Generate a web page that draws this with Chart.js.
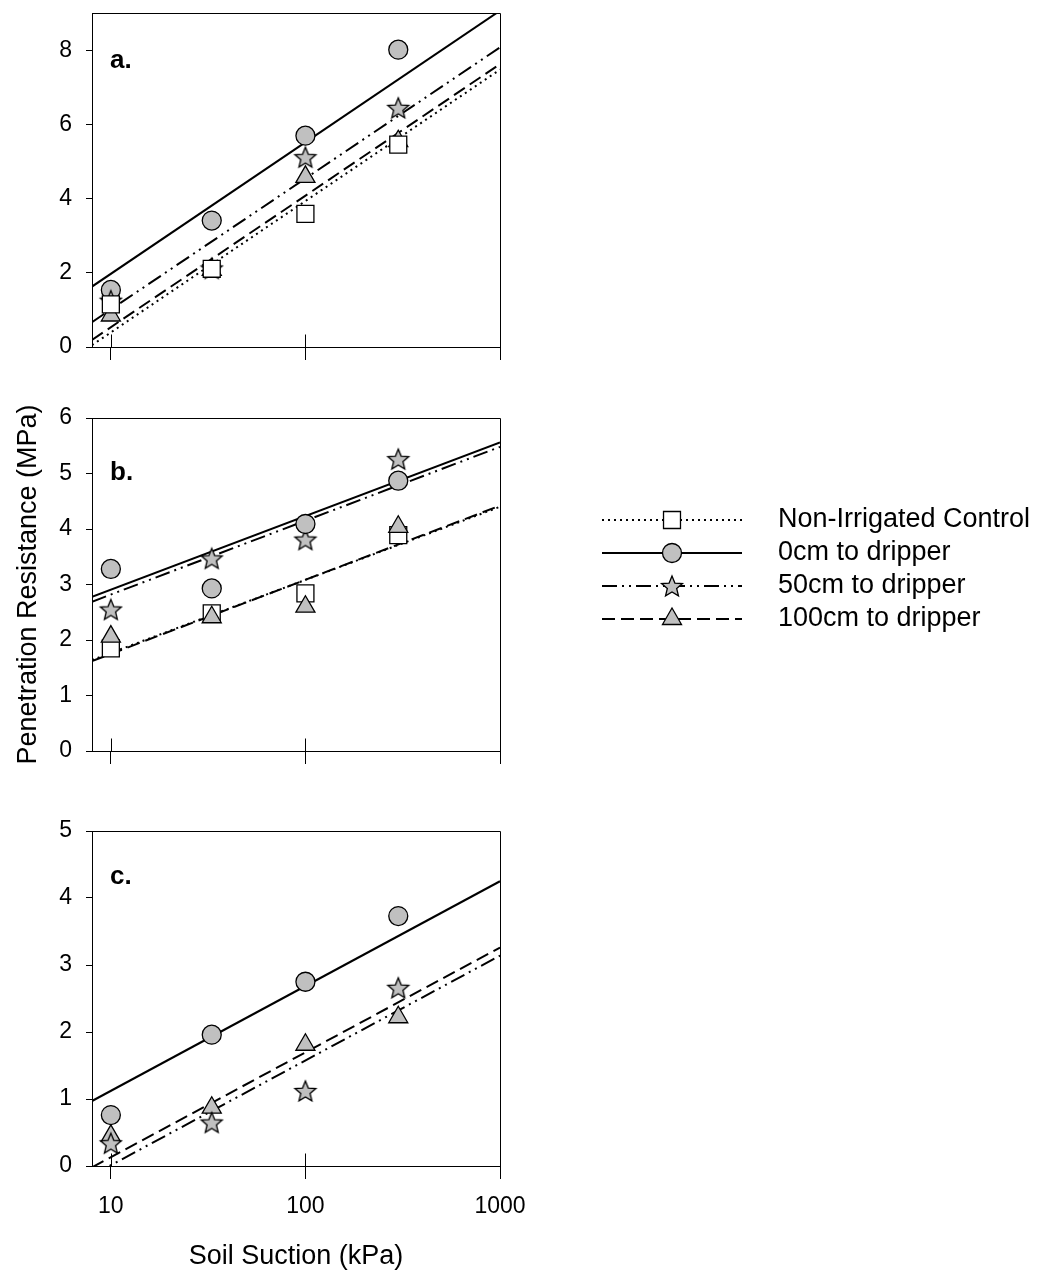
<!DOCTYPE html>
<html>
<head>
<meta charset="utf-8">
<script src="https://cdn.jsdelivr.net/npm/chart.js@4/dist/chart.umd.min.js"></script>
<style>
  body { margin: 0; background: #fff; }
  canvas { position: absolute; left: 0; }
</style>
</head>
<body>
<canvas id="chartA" width="540" height="380" style="top:0"></canvas>
<canvas id="chartB" width="1037" height="400" style="top:380px"></canvas>
<canvas id="chartC" width="540" height="483" style="top:790px"></canvas>
<script>
// soil suction (kPa) where penetration resistance was measured
const suction = [10, 33, 100, 300]
// regression lines are drawn across the whole x range
const fitSuction = [8, 1000]
const xTicks = [10, 100, 1000]

// a.
const aControl = [1.15, 2.11, 3.59, 5.46]
const a0cm = [1.54, 3.41, 5.7, 8.02]
const a50cm = [1.25, 2.12, 5.12, 6.45]
const a100cm = [0.85, 2.08, 4.59, 5.55]
const aControlFit = [0.05, 7.48]
const a0cmFit = [1.63, 9.07]
const a50cmFit = [0.67, 8.08]
const a100cmFit = [0.19, 7.63]
const aTicks = [0, 2, 4, 6, 8]

// b.
const bControl = [1.85, 2.48, 2.84, 3.89]
const b0cm = [3.28, 2.93, 4.09, 4.87]
const b50cm = [2.55, 3.47, 3.81, 5.26]
const b100cm = [2.06, 2.41, 2.6, 4.04]
const bControlFit = [1.64, 4.4]
const b0cmFit = [2.78, 5.56]
const b50cmFit = [2.69, 5.48]
const b100cmFit = [1.62, 4.42]
const bTicks = [0, 1, 2, 3, 4, 5, 6]

// c.  (no control series here)
const c0cm = [0.76, 1.96, 2.75, 3.73]
const c50cm = [0.34, 0.65, 1.12, 2.66]
const c100cm = [0.45, 0.87, 1.81, 2.22]
const c0cmFit = [0.97, 4.25]
const c50cmFit = [-0.14, 3.14]
const c100cmFit = [-0.02, 3.26]
const cTicks = [0, 1, 2, 3, 4, 5]

const family = '"Liberation Sans", Arial, sans-serif'

function makeStar() {
  const c = document.createElement('canvas')
  c.width = 26
  c.height = 26
  const g = c.getContext('2d')
  g.beginPath()
  for (let i = 0; i < 10; i++) {
    const r = i % 2 === 0 ? 11 : 4.9
    const a = -Math.PI / 2 + (i * Math.PI) / 5
    const px = 13 + r * Math.cos(a)
    const py = 14 + r * Math.sin(a)
    if (i === 0) g.moveTo(px, py)
    else g.lineTo(px, py)
  }
  g.closePath()
  g.fillStyle = '#c0c0c0'
  g.fill()
  g.lineWidth = 1.3
  g.strokeStyle = '#000'
  g.stroke()
  return c
}
const starImg = makeStar()

const seriesStyle = {
  control: { label: 'Non-Irrigated Control', pointStyle: 'rect', radius: 12, fill: '#ffffff', dash: [2, 4] },
  cm0: { label: '0cm to dripper', pointStyle: 'circle', radius: 9.5, fill: '#c0c0c0', dash: [] },
  cm50: { label: '50cm to dripper', pointStyle: starImg, radius: 10, fill: '#c0c0c0', dash: [15, 5, 2, 5, 2, 5] },
  cm100: { label: '100cm to dripper', pointStyle: 'triangle', radius: 11, fill: '#c0c0c0', dash: [13, 6] },
}
const legendKeys = ['control', 'cm0', 'cm50', 'cm100']

function markers(key, values) {
  const s = seriesStyle[key]
  return {
    label: s.label,
    data: suction.map((x, i) => ({ x: x, y: values[i] })),
    showLine: false,
    pointStyle: s.pointStyle,
    pointRadius: s.radius,
    pointHoverRadius: s.radius,
    pointBackgroundColor: s.fill,
    pointBorderColor: '#000',
    pointBorderWidth: 1.3,
    pointHoverBorderWidth: 1.3,
  }
}

function fitLine(key, ends) {
  const s = seriesStyle[key]
  return {
    label: s.label + ' fit',
    data: fitSuction.map((x, i) => ({ x: x, y: ends[i] })),
    showLine: true,
    borderColor: '#000',
    borderWidth: 2,
    borderDash: s.dash,
    pointRadius: 0,
    pointHoverRadius: 0,
  }
}

// box round the plot area + upper half of the x tick marks
const frame = {
  id: 'frame',
  beforeDatasetsDraw(chart) {
    const { ctx, chartArea: a, scales } = chart
    ctx.save()
    ctx.strokeStyle = '#000'
    ctx.lineWidth = 1
    ctx.setLineDash([])
    ctx.beginPath()
    const l = Math.round(a.left) + 0.5
    const r = Math.round(a.right) + 0.5
    const t = Math.round(a.top) + 0.5
    const b = Math.round(a.bottom) + 0.5
    ctx.moveTo(l, t)
    ctx.lineTo(r, t)
    ctx.lineTo(r, b)
    xTicks.forEach((v) => {
      const px = Math.round(scales.x.getPixelForValue(v)) + 0.5
      ctx.moveTo(px, b)
      ctx.lineTo(px, b - 13)
    })
    ctx.stroke()
    ctx.restore()
  },
}

const panelLabel = {
  id: 'panelLabel',
  afterDraw(chart, args, opts) {
    const { ctx, chartArea: a } = chart
    ctx.save()
    ctx.fillStyle = '#000'
    ctx.font = 'bold 26px ' + family
    ctx.textAlign = 'left'
    ctx.textBaseline = 'middle'
    ctx.fillText(opts.text, a.left + 18, a.top + opts.dy)
    ctx.restore()
  },
}

const seriesLegend = {
  id: 'seriesLegend',
  afterDraw(chart, args, opts) {
    if (!opts.show) return
    const ctx = chart.ctx
    ctx.save()
    legendKeys.forEach((key, i) => {
      const s = seriesStyle[key]
      const y = opts.top + i * opts.gap
      ctx.strokeStyle = '#000'
      ctx.lineWidth = 2
      ctx.setLineDash(s.dash)
      ctx.beginPath()
      ctx.moveTo(opts.x1, y)
      ctx.lineTo(opts.x2, y)
      ctx.stroke()
      ctx.setLineDash([])
      ctx.fillStyle = s.fill
      ctx.strokeStyle = '#000'
      ctx.lineWidth = 1.3
      Chart.helpers.drawPoint(ctx, { pointStyle: s.pointStyle, radius: s.radius, borderWidth: 1.3, rotation: 0 }, (opts.x1 + opts.x2) / 2, y)
      ctx.fillStyle = '#000'
      ctx.font = '27px ' + family
      ctx.textAlign = 'left'
      ctx.textBaseline = 'middle'
      ctx.fillText(s.label, opts.textX, y)
    })
    ctx.restore()
  },
}

function makePanel(id, p) {
  return new Chart(document.getElementById(id), {
    type: 'scatter',
    data: { datasets: p.datasets },
    options: {
      responsive: false,
      animation: false,
      layout: { padding: { top: p.padTop, right: p.padRight, left: 0, bottom: 0 } },
      plugins: {
        legend: { display: false },
        tooltip: { enabled: false },
        panelLabel: { text: p.label, dy: p.labelDy },
        seriesLegend: { show: !!p.legend, top: 140, gap: 33, x1: 602, x2: 742, textX: 778 },
      },
      scales: {
        x: {
          type: 'logarithmic',
          min: 8,
          max: 1000,
          afterBuildTicks: (s) => {
            s.ticks = xTicks.map((v) => ({ value: v }))
          },
          afterFit: (s) => {
            s.height = p.xHeight
            s.paddingLeft = 0
            s.paddingRight = 0
          },
          grid: { drawOnChartArea: false, color: '#000', tickLength: 13, tickWidth: 1 },
          border: { color: '#000', width: 1 },
          ticks: {
            display: !!p.xTitle,
            color: '#000',
            font: { size: 23, family: family },
            padding: 14,
            maxRotation: 0,
            autoSkip: false,
            callback: (v) => String(v),
          },
          title: {
            display: !!p.xTitle,
            text: p.xTitle || '',
            color: '#000',
            font: { size: 27, family: family },
            padding: { top: 4, bottom: 0 },
          },
        },
        y: {
          min: 0,
          max: p.yMax,
          afterBuildTicks: (s) => {
            s.ticks = p.yTicks.map((v) => ({ value: v }))
          },
          afterFit: (s) => {
            s.width = 92
            s.paddingTop = 0
            s.paddingBottom = 0
          },
          grid: { drawOnChartArea: false, color: '#000', tickLength: 6, tickWidth: 1 },
          border: { color: '#000', width: 1 },
          ticks: { color: '#000', font: { size: 23, family: family }, padding: 14 },
          title: {
            display: !!p.yTitle,
            text: p.yTitle || '',
            color: '#000',
            font: { size: 27, family: family },
            padding: { top: 12, bottom: 0 },
          },
        },
      },
    },
    plugins: [frame, panelLabel, seriesLegend],
  })
}

makePanel('chartA', {
  label: 'a.',
  labelDy: 48,
  padTop: 9,
  padRight: 40,
  xHeight: 33,
  yMax: 9,
  yTicks: aTicks,
  datasets: [
    markers('control', aControl),
    markers('cm50', a50cm),
    markers('cm0', a0cm),
    markers('cm100', a100cm),
    fitLine('cm0', a0cmFit),
    fitLine('cm50', a50cmFit),
    fitLine('cm100', a100cmFit),
    fitLine('control', aControlFit),
  ],
})

makePanel('chartB', {
  label: 'b.',
  labelDy: 55,
  padTop: 38,
  padRight: 537,
  xHeight: 29,
  yMax: 6,
  yTicks: bTicks,
  yTitle: 'Penetration Resistance (MPa)',
  legend: true,
  datasets: [
    markers('cm0', b0cm),
    markers('cm50', b50cm),
    markers('cm100', b100cm),
    markers('control', bControl),
    fitLine('cm0', b0cmFit),
    fitLine('cm50', b50cmFit),
    fitLine('cm100', b100cmFit),
    fitLine('control', bControlFit),
  ],
})

makePanel('chartC', {
  label: 'c.',
  labelDy: 46,
  padTop: 41,
  padRight: 40,
  xHeight: 107,
  yMax: 5,
  yTicks: cTicks,
  xTitle: 'Soil Suction (kPa)',
  datasets: [
    markers('cm50', c50cm),
    markers('cm100', c100cm),
    markers('cm0', c0cm),
    fitLine('cm0', c0cmFit),
    fitLine('cm100', c100cmFit),
    fitLine('cm50', c50cmFit),
  ],
})
</script>
</body>
</html>
